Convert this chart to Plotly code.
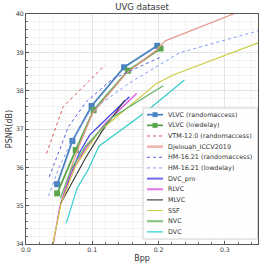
import plotly.graph_objects as go

vlvc_ra_x = [0.047, 0.070, 0.099, 0.148, 0.198]
vlvc_ra_y = [35.56, 36.69, 37.60, 38.61, 39.17]
vlvc_ld_x = [0.047, 0.075, 0.102, 0.154, 0.203]
vlvc_ld_y = [35.32, 36.45, 37.49, 38.52, 39.10]
vtm_x = [0.031, 0.056, 0.119]
vtm_y = [36.36, 37.58, 38.67]
djel_x = [0.066, 0.080, 0.100, 0.151, 0.197, 0.210, 0.320]
djel_y = [35.90, 36.55, 37.40, 38.45, 39.06, 39.30, 40.05]
hm_ra_x = [0.035, 0.049, 0.064, 0.091, 0.130, 0.205]
hm_ra_y = [35.75, 36.40, 37.06, 37.71, 38.30, 38.89]
hm_ld_x = [0.034, 0.051, 0.074, 0.096, 0.156, 0.232, 0.350]
hm_ld_y = [35.25, 36.05, 36.84, 37.45, 38.20, 38.99, 39.56]
dvcpro_x = [0.053, 0.066, 0.080, 0.096, 0.109, 0.156]
dvcpro_y = [35.06, 35.75, 36.36, 36.84, 37.06, 37.84]
rlvc_x = [0.041, 0.051, 0.065, 0.090, 0.120, 0.167]
rlvc_y = [34.00, 34.97, 35.75, 36.50, 37.15, 37.93]
mlvc_x = [0.052, 0.070, 0.090, 0.115, 0.149]
mlvc_y = [35.05, 35.60, 36.25, 36.95, 37.75]
ssf_x = [0.040, 0.053, 0.075, 0.111, 0.197, 0.222, 0.350]
ssf_y = [33.97, 35.06, 36.05, 36.95, 38.19, 38.41, 39.25]
nvc_x = [0.052, 0.068, 0.090, 0.130, 0.207]
nvc_y = [35.20, 35.95, 36.55, 37.30, 38.13]
dvc_x = [0.061, 0.077, 0.094, 0.110, 0.181, 0.239]
dvc_y = [34.55, 35.45, 35.95, 36.55, 37.45, 38.28]

series_names = ["VLVC (randomaccess)", "VLVC (lowdelay)", "VTM-12.0 (randomaccess)",
                "Djelouah_ICCV2019", "HM-16.21 (randomaccess)", "HM-16.21 (lowdelay)",
                "DVC_pro", "RLVC", "MLVC", "SSF", "NVC", "DVC"]

W, H = 262, 269
ML, MR, MT, MB = 26, 4, 14, 25
PW, PH = W - ML - MR, H - MT - MB

def px(xp):
    return (xp - ML) / PW

def py(yp):
    return (H - MB - yp) / PH

fig = go.Figure()
shapes = []
annotations = []

# legend box
LX0, LX1, LY0, LY1 = 143, 257.5, 108, 239
shapes.append(dict(type="rect", xref="paper", yref="paper",
                   x0=px(LX0), x1=px(LX1), y0=py(LY1), y1=py(LY0),
                   line=dict(color="#d0d0d0", width=1), fillcolor="rgba(255,255,255,0.92)",
                   layer="above"))

styles = [
    # color, dash, width, marker, legend color, legend width
    ("#4a84c0", "solid", 1.8, True, "#4a84c0", 1.8),
    ("#5aa54a", "solid", 1.8, True, "#5aa54a", 1.8),
    ("#d65555", "dot", 1.0, False, "#d65555", 1.0),
    ("#e89890", "solid", 1.2, False, "#efb5b0", 2.6),
    ("#5060e0", "dot", 1.0, False, "#5060e0", 1.0),
    ("#7f9cf5", "dot", 1.0, False, "#7f9cf5", 1.0),
    ("#4848e8", "solid", 1.3, False, "#6c6cec", 2.0),
    ("#dd44dd", "solid", 1.3, False, "#e27fe2", 2.2),
    ("#333333", "solid", 1.1, False, "#333333", 1.1),
    ("#cccc44", "solid", 1.2, False, "#cccc55", 1.1),
    ("#66b466", "solid", 1.3, False, "#88c488", 2.2),
    ("#33cccc", "solid", 1.2, False, "#40d8d8", 1.4),
]
data = [(vlvc_ra_x, vlvc_ra_y), (vlvc_ld_x, vlvc_ld_y), (vtm_x, vtm_y), (djel_x, djel_y),
        (hm_ra_x, hm_ra_y), (hm_ld_x, hm_ld_y), (dvcpro_x, dvcpro_y), (rlvc_x, rlvc_y),
        (mlvc_x, mlvc_y), (ssf_x, ssf_y), (nvc_x, nvc_y), (dvc_x, dvc_y)]

for i, (name, (x, y), st) in enumerate(zip(series_names, data, styles)):
    color, dash, width, marker, lcolor, lwidth = st
    fig.add_trace(go.Scatter(
        x=x, y=y, name=name,
        mode="lines+markers" if marker else "lines",
        line=dict(color=color, dash=dash, width=width),
        marker=dict(symbol="square", size=6, color=color) if marker else None,
        showlegend=False,
    ))
    yc = 114.7 + i * 10.65
    shapes.append(dict(type="line", xref="paper", yref="paper",
                       x0=px(147), x1=px(163), y0=py(yc), y1=py(yc),
                       line=dict(color=lcolor, width=lwidth, dash=dash), layer="above"))
    if marker:
        shapes.append(dict(type="rect", xref="paper", yref="paper",
                           x0=px(152.5), x1=px(157.5), y0=py(yc + 2.5), y1=py(yc - 2.5),
                           line=dict(width=0), fillcolor=color, layer="above"))
    annotations.append(dict(text=name, xref="paper", yref="paper", x=px(166), y=py(yc),
                            xanchor="left", yanchor="middle", showarrow=False,
                            font=dict(size=6.4, color="#333333", family="DejaVu Sans")))

axis_common = dict(
    showline=True, linecolor="#555555", linewidth=1, mirror=True,
    showgrid=True, gridcolor="#e4e4e4", gridwidth=1,
    ticks="inside", ticklen=3, tickcolor="#555555",
    tickfont=dict(size=6.2, color="#333333", family="DejaVu Sans"),
    zeroline=False, automargin=False,
)

fig.update_xaxes(
    range=[0, 0.35], dtick=0.1, tickformat=".1f",
    minor=dict(dtick=0.02, ticks="inside", ticklen=2, tickcolor="#777777",
               showgrid=True, gridcolor="#f3f3f3"),
    title=dict(text="Bpp", font=dict(size=8, color="#333333", family="DejaVu Sans"), standoff=2),
    **axis_common,
)
fig.update_yaxes(
    range=[34, 40], dtick=1,
    minor=dict(dtick=0.2, ticks="inside", ticklen=2, tickcolor="#777777",
               showgrid=True, gridcolor="#f3f3f3"),
    title=dict(text="PSNR(dB)", font=dict(size=8, color="#333333", family="DejaVu Sans"), standoff=2),
    **axis_common,
)

fig.update_layout(
    width=W, height=H,
    margin=dict(l=ML, r=MR, t=MT, b=MB),
    paper_bgcolor="white", plot_bgcolor="white",
    title=dict(text="UVG dataset", x=px(142), xanchor="center", xref="paper",
               y=1 - 7 / H, yanchor="middle",
               font=dict(size=8.5, color="#333333", family="DejaVu Sans")),
    shapes=shapes, annotations=annotations,
    showlegend=False,
)

fig.write_html("out.html", config={"displayModeBar": False, "staticPlot": True},
               post_script="document.body.style.margin='0';document.body.style.overflow='hidden';")
